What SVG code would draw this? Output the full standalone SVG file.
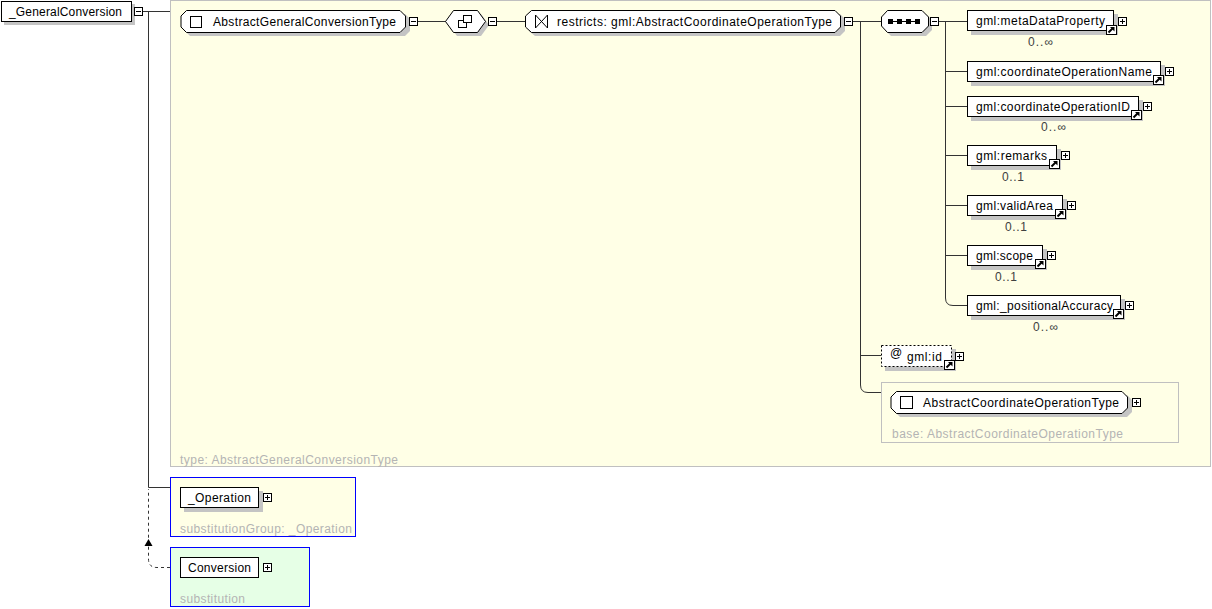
<svg xmlns="http://www.w3.org/2000/svg" xmlns:xlink="http://www.w3.org/1999/xlink" width="1212" height="609" viewBox="0 0 1212 609">
  <style>
    text { font-family: "Liberation Sans", Arial, sans-serif; font-size: 12px; fill: #000; }
    .note { fill: #b4b4b4; }
    .occ { fill: #404040; }
    .box { fill: #fff; stroke: #000; stroke-width: 1; }
    .shadow { fill: #c4c4c4; }
    .wire { fill: none; stroke: #333; stroke-width: 1; }
    .frame { fill: #ffffe6; stroke: #c0c0c0; stroke-width: 1; }
    .btn { fill: #fff; stroke: #000; stroke-width: 1; }
    .sym { fill: none; stroke: #000; stroke-width: 1; }
  </style>
  <defs>
    <!-- collapse button -->
    <g id="minus">
      <rect class="btn" x="0.5" y="0.5" width="8" height="8"/>
      <path class="sym" d="M2 4.5 H7"/>
    </g>
    <!-- expand button -->
    <g id="plus">
      <rect class="btn" x="0.5" y="0.5" width="8" height="8"/>
      <path class="sym" d="M2 4.5 H7 M4.5 2 V7"/>
    </g>
    <!-- reference marker -->
    <g id="ref">
      <rect x="0.5" y="0.5" width="10" height="9" fill="#fff" stroke="#000"/>
      <path d="M2.5 7.5 L7 3" stroke="#000" stroke-width="2"/>
      <path d="M4 2 H8.5 V6.5 Z" fill="#000"/>
    </g>
  </defs>

  <!-- content model frame -->
  <g id="typeFrame">
    <rect class="frame" x="170.5" y="0.5" width="1040" height="466"/>
    <text class="note" x="180" y="464" textLength="218" lengthAdjust="spacing">type: AbstractGeneralConversionType</text>
  </g>

  <!-- connectors -->
  <g id="connectors">
    <path class="wire" d="M143 11.5 H170"/>
    <path class="wire" d="M148.5 11.5 V487.5 H170"/>
    <path class="wire" d="M418 21.5 H446"/>
    <path class="wire" d="M497 21.5 H525"/>
    <path class="wire" d="M853 21.5 H881"/>
    <path class="wire" d="M860.5 21.5 V385 Q860.5 392.5 868 392.5 H881"/>
    <path class="wire" d="M860.5 355.5 H881"/>
    <path class="wire" d="M938 21.5 H967"/>
    <path class="wire" d="M945.5 21.5 V298 Q945.5 305.5 953 305.5 H967"/>
    <path class="wire" d="M945.5 71.5 H967 M945.5 106.5 H967 M945.5 155.5 H967 M945.5 205.5 H967 M945.5 255.5 H967"/>
    <path class="wire" d="M170 567.5 H157 Q148.5 567.5 148.5 559 V489" stroke-dasharray="3,3"/>
    <path d="M148.5 539 L144.5 546 H152.5 Z" fill="#000"/>
  </g>

  <!-- root element -->
  <g id="generalConversion">
    <rect class="shadow" x="4" y="4" width="131" height="21"/>
    <rect class="box" x="1.5" y="1.5" width="130" height="20"/>
    <text x="9" y="16" textLength="113" lengthAdjust="spacing">_GeneralConversion</text>
    <use xlink:href="#minus" x="134" y="7"/>
  </g>

  <!-- complex type -->
  <g id="abstractGeneralConversionType">
    <path class="shadow" d="M190 14 H405 L410 19 V31 L405 36 H190 L185 31 V19 Z"/>
    <path class="box" d="M186.5 10.5 H400 L405.5 16 V27 L400 32.5 H186.5 L181 27 V16 Z"/>
    <rect class="btn" x="190.5" y="16.5" width="11" height="11"/>
    <text x="213" y="26" textLength="183" lengthAdjust="spacing">AbstractGeneralConversionType</text>
    <use xlink:href="#minus" x="409" y="17"/>
  </g>

  <!-- complex content -->
  <g id="complexContent">
    <path class="shadow" d="M449 25 L457 14 H481 L489 25 L481 36 H457 Z"/>
    <path class="box" d="M445.5 21.5 L453.5 10.5 H477.5 L485.5 21.5 L477.5 32.5 H453.5 Z"/>
    <rect x="458.5" y="20.5" width="8" height="7" fill="#fff" stroke="#000"/>
    <rect x="463.5" y="15.5" width="8" height="7" fill="#fff" stroke="#000"/>
    <use xlink:href="#minus" x="488" y="17"/>
  </g>

  <!-- restriction -->
  <g id="restriction">
    <path class="shadow" d="M535 14 H840 L845 19 V31 L840 36 H535 L529 31 V19 Z"/>
    <path class="box" d="M531.5 10.5 H835 L840.5 16 V27 L835 32.5 H531.5 L525.5 27 V16 Z"/>
    <path class="sym" d="M535.5 15 V28 M547.5 15 V28 M535.5 15 L547.5 28 M547.5 15 L535.5 28"/>
    <text x="557" y="26" textLength="275" lengthAdjust="spacing">restricts: gml:AbstractCoordinateOperationType</text>
    <use xlink:href="#minus" x="844" y="17"/>
  </g>

  <!-- sequence -->
  <g id="sequence">
    <path class="shadow" d="M891 14 H926 L932 20 V30 L926 36 H891 L885 30 V20 Z"/>
    <path class="box" d="M887.5 10.5 H922 L928.5 17 V26 L922 32.5 H887.5 L881.5 26 V17 Z"/>
    <path d="M888 21.5 H920" stroke="#000" stroke-width="1"/>
    <rect x="888" y="19" width="5" height="5" fill="#000"/>
    <rect x="897" y="19" width="5" height="5" fill="#000"/>
    <rect x="906" y="19" width="5" height="5" fill="#000"/>
    <rect x="915" y="19" width="5" height="5" fill="#000"/>
    <use xlink:href="#minus" x="930" y="17"/>
  </g>

  <!-- child elements -->
  <g id="metaDataProperty">
    <rect class="shadow" x="971" y="14" width="147" height="21"/>
    <rect class="box" x="967.5" y="10.5" width="146" height="20"/>
    <text x="976" y="25" textLength="129" lengthAdjust="spacing">gml:metaDataProperty</text>
    <use xlink:href="#ref" x="1106" y="25"/>
    <use xlink:href="#plus" x="1118" y="17"/>
    <text class="occ" x="1028" y="46" textLength="25" lengthAdjust="spacing">0..∞</text>
  </g>
  <g id="coordinateOperationName">
    <rect class="shadow" x="971" y="65" width="194" height="21"/>
    <rect class="box" x="967.5" y="61.5" width="193" height="20"/>
    <text x="976" y="76" textLength="176" lengthAdjust="spacing">gml:coordinateOperationName</text>
    <use xlink:href="#ref" x="1153" y="75"/>
    <use xlink:href="#plus" x="1165" y="67"/>
  </g>
  <g id="coordinateOperationID">
    <rect class="shadow" x="971" y="100" width="172" height="21"/>
    <rect class="box" x="967.5" y="96.5" width="171" height="20"/>
    <text x="976" y="111" textLength="154" lengthAdjust="spacing">gml:coordinateOperationID</text>
    <use xlink:href="#ref" x="1131" y="110"/>
    <use xlink:href="#plus" x="1143" y="102"/>
    <text class="occ" x="1041" y="131" textLength="25" lengthAdjust="spacing">0..∞</text>
  </g>
  <g id="remarks">
    <rect class="shadow" x="971" y="149" width="90" height="21"/>
    <rect class="box" x="967.5" y="145.5" width="89" height="20"/>
    <text x="976" y="160" textLength="71" lengthAdjust="spacing">gml:remarks</text>
    <use xlink:href="#ref" x="1049" y="159"/>
    <use xlink:href="#plus" x="1061" y="151"/>
    <text class="occ" x="1002" y="181" textLength="22" lengthAdjust="spacing">0..1</text>
  </g>
  <g id="validArea">
    <rect class="shadow" x="971" y="199" width="96" height="21"/>
    <rect class="box" x="967.5" y="195.5" width="95" height="20"/>
    <text x="976" y="210" textLength="77" lengthAdjust="spacing">gml:validArea</text>
    <use xlink:href="#ref" x="1055" y="209"/>
    <use xlink:href="#plus" x="1067" y="201"/>
    <text class="occ" x="1005" y="231" textLength="22" lengthAdjust="spacing">0..1</text>
  </g>
  <g id="scope">
    <rect class="shadow" x="971" y="249" width="76" height="21"/>
    <rect class="box" x="967.5" y="245.5" width="75" height="20"/>
    <text x="976" y="260" textLength="57" lengthAdjust="spacing">gml:scope</text>
    <use xlink:href="#ref" x="1035" y="259"/>
    <use xlink:href="#plus" x="1047" y="251"/>
    <text class="occ" x="995" y="281" textLength="22" lengthAdjust="spacing">0..1</text>
  </g>
  <g id="positionalAccuracy">
    <rect class="shadow" x="971" y="299" width="154" height="21"/>
    <rect class="box" x="967.5" y="295.5" width="153" height="20"/>
    <text x="976" y="310" textLength="137" lengthAdjust="spacing">gml:_positionalAccuracy</text>
    <use xlink:href="#ref" x="1113" y="309"/>
    <use xlink:href="#plus" x="1125" y="301"/>
    <text class="occ" x="1033" y="331" textLength="25" lengthAdjust="spacing">0..∞</text>
  </g>

  <!-- attribute -->
  <g id="attrId">
    <rect class="shadow" x="885" y="349" width="71" height="22"/>
    <rect x="881.5" y="345.5" width="70" height="21" fill="#fff" stroke="#000" stroke-dasharray="2,2"/>
    <text x="890" y="357" font-size="10">@</text>
    <text x="907" y="361" textLength="35" lengthAdjust="spacing">gml:id</text>
    <use xlink:href="#ref" x="944" y="360"/>
    <use xlink:href="#plus" x="955" y="352"/>
  </g>

  <!-- base type -->
  <g id="baseType">
    <rect x="881.5" y="382.5" width="297" height="60" fill="none" stroke="#c0c0c0"/>
    <path class="shadow" d="M900 395 H1127 L1132 400 V412 L1127 417 H900 L895 412 V400 Z"/>
    <path class="box" d="M896.5 391.5 H1122 L1127.5 397 V408 L1122 413.5 H896.5 L891 408 V397 Z"/>
    <rect class="btn" x="900.5" y="396.5" width="12" height="12"/>
    <text x="923" y="407" textLength="196" lengthAdjust="spacing">AbstractCoordinateOperationType</text>
    <use xlink:href="#plus" x="1132" y="398"/>
    <text class="note" x="892" y="438" textLength="231" lengthAdjust="spacing">base: AbstractCoordinateOperationType</text>
  </g>

  <!-- substitution group head -->
  <g id="operation">
    <rect x="170.5" y="477.5" width="185" height="59" fill="#ffffe6" stroke="#0000ff"/>
    <rect class="shadow" x="184" y="491" width="79" height="21"/>
    <rect class="box" x="180.5" y="487.5" width="78" height="20"/>
    <text x="188" y="502" textLength="63" lengthAdjust="spacing">_Operation</text>
    <use xlink:href="#plus" x="263" y="493"/>
    <text class="note" x="180" y="533" textLength="172" lengthAdjust="spacing">substitutionGroup: _Operation</text>
  </g>

  <!-- substitution member -->
  <g id="conversion">
    <rect x="170.5" y="547.5" width="139" height="59" fill="#e6ffe6" stroke="#0000ff"/>
    <rect class="box" x="180.5" y="557.5" width="78" height="20"/>
    <text x="188" y="572" textLength="63" lengthAdjust="spacing">Conversion</text>
    <use xlink:href="#plus" x="263" y="563"/>
    <text class="note" x="180" y="603" textLength="65" lengthAdjust="spacing">substitution</text>
  </g>
</svg>
